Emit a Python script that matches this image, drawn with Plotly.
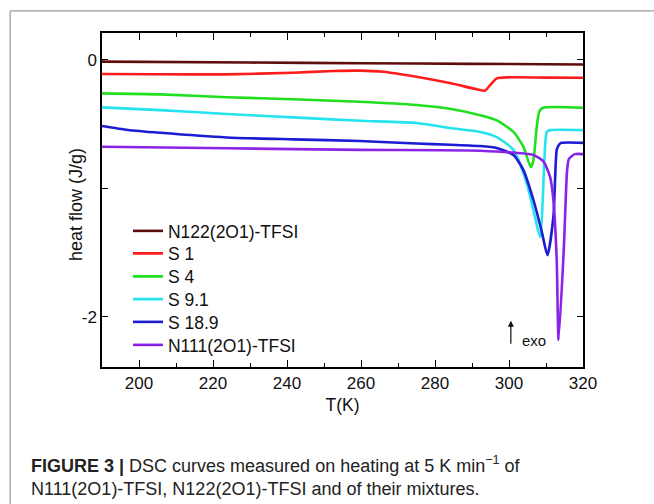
import plotly.graph_objects as go

# DSC heating scans (5 K/min): temperature in K, heat flow in J/g
t_n122 = [190, 230, 260, 290, 320]
q_n122 = [-0.013, -0.020, -0.025, -0.030, -0.035]

t_s1 = [190, 205, 223.7, 241.7, 252.5, 259.7, 266, 275, 284, 291.3, 293.5, 294.9, 296.7, 300.3, 310, 320]
q_s1 = [-0.109, -0.111, -0.112, -0.099, -0.086, -0.083, -0.091, -0.13, -0.18, -0.228, -0.239, -0.195, -0.143, -0.135, -0.137, -0.138]

t_s4 = [190, 205.7, 223.7, 241.7, 259.7, 275, 284, 292.2, 296.7, 301.2, 303.9, 305.9, 306.6, 307.5, 308.2, 309.2, 320]
q_s4 = [-0.26, -0.268, -0.29, -0.306, -0.325, -0.35, -0.38, -0.43, -0.47, -0.56, -0.676, -0.835, -0.78, -0.52, -0.40, -0.372, -0.372]

t_s91 = [190, 205.7, 223.7, 241.7, 259.7, 275, 284, 292.2, 296.7, 301.2, 304.8, 307, 308.4, 309.7, 310.2, 311.1, 320]
q_s91 = [-0.369, -0.39, -0.42, -0.447, -0.473, -0.49, -0.53, -0.56, -0.60, -0.70, -0.96, -1.22, -1.377, -0.70, -0.56, -0.546, -0.546]

t_s189 = [190, 197, 205.7, 223.7, 241.7, 259.7, 275, 284, 292.2, 296.7, 301.2, 303.9, 306.6, 308.8, 310.4, 312, 312.9, 313.5, 314.2, 320]
q_s189 = [-0.514, -0.545, -0.567, -0.603, -0.618, -0.631, -0.65, -0.66, -0.67, -0.685, -0.74, -0.857, -1.09, -1.33, -1.52, -1.22, -0.70, -0.66, -0.645, -0.645]

t_n111 = [190, 223.7, 259.7, 292.2, 306.6, 309.3, 311.1, 312, 312.9, 313.4, 314.8, 315.7, 316.2, 317.8, 320]
q_n111 = [-0.675, -0.687, -0.70, -0.707, -0.74, -0.79, -0.91, -1.09, -1.56, -2.18, -1.48, -0.86, -0.77, -0.733, -0.733]

names = ["N122(2O1)-TFSI", "S 1", "S 4", "S 9.1", "S 18.9", "N111(2O1)-TFSI"]
colors = ["#5e0d0d", "#ff1c1c", "#1fe01f", "#25e3ef", "#1c1cd2", "#8a22e8"]
series_t = [t_n122, t_s1, t_s4, t_s91, t_s189, t_n111]
series_q = [q_n122, q_s1, q_s4, q_s91, q_s189, q_n111]

font_family = "Liberation Sans, Arial, sans-serif"

# one legend box per curve so the entries can be stacked tightly
legend_ids = ["legend", "legend2", "legend3", "legend4", "legend5", "legend6"]
legend_rows_px = [231, 253.5, 276.5, 299.3, 322, 345]
plot_top_px, plot_bottom_px = 33, 367

fig = go.Figure()
for name, color, t, q, lid in zip(names, colors, series_t, series_q, legend_ids):
    fig.add_trace(go.Scatter(
        x=t, y=q, name=name, mode="lines", legend=lid,
        line=dict(color=color, width=2.6, shape="spline", smoothing=0.6),
    ))

legend_layout = {}
for lid, row in zip(legend_ids, legend_rows_px):
    legend_layout[lid] = dict(
        x=0.054, xanchor="left",
        y=(plot_bottom_px - row) / (plot_bottom_px - plot_top_px), yanchor="middle",
        bgcolor="rgba(0,0,0,0)", font=dict(size=17.5, color="#111111"),
    )

fig.update_layout(
    width=654, height=504,
    margin=dict(l=102, r=71, t=33, b=137),
    paper_bgcolor="white", plot_bgcolor="white",
    font=dict(family=font_family, color="#111111"),
    showlegend=True,
    **legend_layout,
)

fig.update_xaxes(
    range=[190, 320], tick0=200, dtick=20,
    ticks="inside", ticklen=7, tickwidth=1.3, tickcolor="black",
    minor=dict(dtick=10, ticks="inside", ticklen=4, tickwidth=1.3, tickcolor="black"),
    showline=True, linecolor="black", linewidth=1.5, mirror="allticks",
    showgrid=False, zeroline=False,
    tickfont=dict(size=17),
    title=dict(text="T(K)", font=dict(size=17.5), standoff=7),
)
fig.update_yaxes(
    range=[-2.39, 0.21], tickvals=[-2, 0], ticktext=["-2", "0"],
    ticks="inside", ticklen=6, tickwidth=1.3, tickcolor="black",
    minor=dict(tickvals=[-1], ticks="inside", ticklen=6, tickwidth=1.3, tickcolor="black"),
    showline=True, linecolor="black", linewidth=1.5, mirror="allticks",
    showgrid=False, zeroline=False,
    tickfont=dict(size=17),
)

# y-axis title placed close to the tick labels
fig.add_annotation(
    x=-0.054, y=0.485, xref="paper", yref="paper", textangle=-90,
    text="heat flow (J/g)", showarrow=False, font=dict(size=18),
    xanchor="center", yanchor="middle",
)

# exo direction marker
fig.add_annotation(
    x=300.5, y=-2.03, ax=300.5, ay=-2.22, axref="x", ayref="y",
    xref="x", yref="y", showarrow=True, arrowhead=2, arrowsize=1,
    arrowwidth=1.2, arrowcolor="#111111", text="",
)
fig.add_annotation(
    x=303.0, y=-2.18, xref="x", yref="y", text="exo", showarrow=False,
    xanchor="left", font=dict(size=15),
)

# caption below the plot
fig.add_annotation(
    x=-0.152, y=-0.252, xref="paper", yref="paper", xanchor="left", yanchor="top",
    align="left", showarrow=False,
    text=("<b>FIGURE 3 |</b> DSC curves measured on heating at 5 K min<sup>\u22121</sup> of"
          "<br>N111(2O1)-TFSI, N122(2O1)-TFSI and of their mixtures."),
    font=dict(size=18, color="#222222"),
)

# light frame around the figure panel
fig.add_shape(type="line", xref="paper", yref="paper",
              x0=-0.191, x1=1.15, y0=1.066, y1=1.066,
              line=dict(color="#9a9a9a", width=1.2))
fig.add_shape(type="line", xref="paper", yref="paper",
              x0=-0.191, x1=-0.191, y0=1.066, y1=-0.42,
              line=dict(color="#9a9a9a", width=1.2))

fig.write_html("out.html")
